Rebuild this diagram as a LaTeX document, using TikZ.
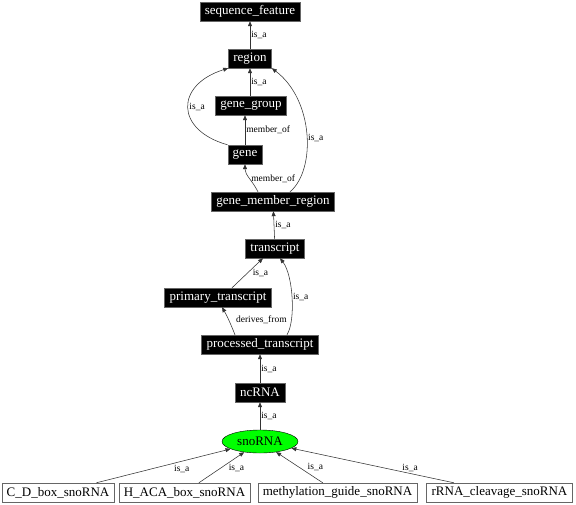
\documentclass[tikz,border=0pt]{standalone}
\usepackage{fontspec}
\setmainfont{Liberation Serif}
\usetikzlibrary{arrows.meta,shapes.geometric}
\tikzstyle{term}=[shape=rectangle, fill=black, draw=black!60, text=white, font=\fontsize{13}{13}\selectfont, minimum height=19pt, inner xsep=5pt, inner ysep=0pt]
\tikzstyle{leaf}=[shape=rectangle, fill=white, draw=black!60, text=black, font=\fontsize{13}{13}\selectfont, minimum height=19pt, inner xsep=5pt, inner ysep=0pt]
\tikzstyle{focus}=[shape=ellipse, fill=G1, draw=black, text=black, font=\fontsize{13}{13}\selectfont, minimum width=76pt, minimum height=23pt, inner sep=0pt]
\tikzstyle{rel}=[-{Triangle[length=5pt,width=4pt]}, line width=0.55pt, black!80]
\tikzstyle{lbl}=[font=\fontsize{9.5}{9.5}\selectfont, inner sep=1pt, text=black]
\definecolor{G1}{RGB}{0,255,0}

\begin{document}
\begin{tikzpicture}[x=1pt, y=-1pt]
    \useasboundingbox (0,0) rectangle (576,504);
    \draw (250,11.5) node[term](seqfeat){sequence\_feature};
    \draw (250,58.5) node[term](region){region};
    \draw (251,105.5) node[term](genegroup){gene\_group};
    \draw (245,154.5) node[term](gene){gene};
    \draw (273,201.5) node[term](gmr){gene\_member\_region};
    \draw (275,248.5) node[term](transcript){transcript};
    \draw (218,297.5) node[term](primary){primary\_transcript};
    \draw (260,344.5) node[term](processed){processed\_transcript};
    \draw (260,392.5) node[term](ncrna){ncRNA};
    \draw (260,441.5) node[focus](snorna){snoRNA};
    \draw (58,492.5) node[leaf](cdbox){C\_D\_box\_snoRNA};
    \draw (184.5,492.5) node[leaf](hacabox){H\_ACA\_box\_snoRNA};
    \draw (337.5,492.5) node[leaf](methyl){methylation\_guide\_snoRNA};
    \draw (499.5,492.5) node[leaf](rrnacleave){rRNA\_cleavage\_snoRNA};
    \draw[rel] (region) -- node[lbl,right]{is\_a} (seqfeat);
    \draw[rel] (genegroup.north -| region) -- node[lbl,right]{is\_a} (region);
    \draw[rel] (gene.north west) .. controls (175,130) and (175,85) .. node[lbl,right,pos=.5]{is\_a} (region.south west);
    \draw[rel] (gene.north) -- node[lbl,right]{member\_of} (genegroup.south -| gene.north);
    \draw[rel] (gmr.north -| 258,0) .. controls (252,180) and (245,175) .. node[lbl,right,pos=.45]{member\_of} (gene.south);
    \draw[rel] (gmr.north -| 290,0) .. controls (316,170) and (314,100) .. node[lbl,right,pos=.47]{is\_a} (region.south east);
    \draw[rel] (transcript) -- node[lbl,right]{is\_a} (gmr);
    \draw[rel] (primary.north -| 232,0) -- node[lbl,right=4pt]{is\_a} (transcript.south -| 263,0);
    \draw[rel] (processed.north -| 235,0) .. controls (230,322) and (226,314) .. node[lbl,right=6pt,pos=.45]{derives\_from} (primary.south -| 222,0);
    \draw[rel] (processed.north -| 287,0) .. controls (296,320) and (293,275) .. node[lbl,right,pos=.5]{is\_a} (transcript.south -| 280,0);
    \draw[rel] (ncrna) -- node[lbl,right]{is\_a} (processed);
    \draw[rel] (snorna) -- node[lbl,right]{is\_a} (ncrna);
    \draw[rel] (cdbox) -- node[lbl,pos=.57,below right]{is\_a} (snorna);
    \draw[rel] (hacabox) -- node[lbl,pos=.5,right=6pt]{is\_a} (snorna);
    \draw[rel] (methyl) -- node[lbl,pos=.5,right=7pt]{is\_a} (snorna);
    \draw[rel] (rrnacleave) -- node[lbl,pos=.27,above]{is\_a} (snorna);
\end{tikzpicture}
\end{document}
